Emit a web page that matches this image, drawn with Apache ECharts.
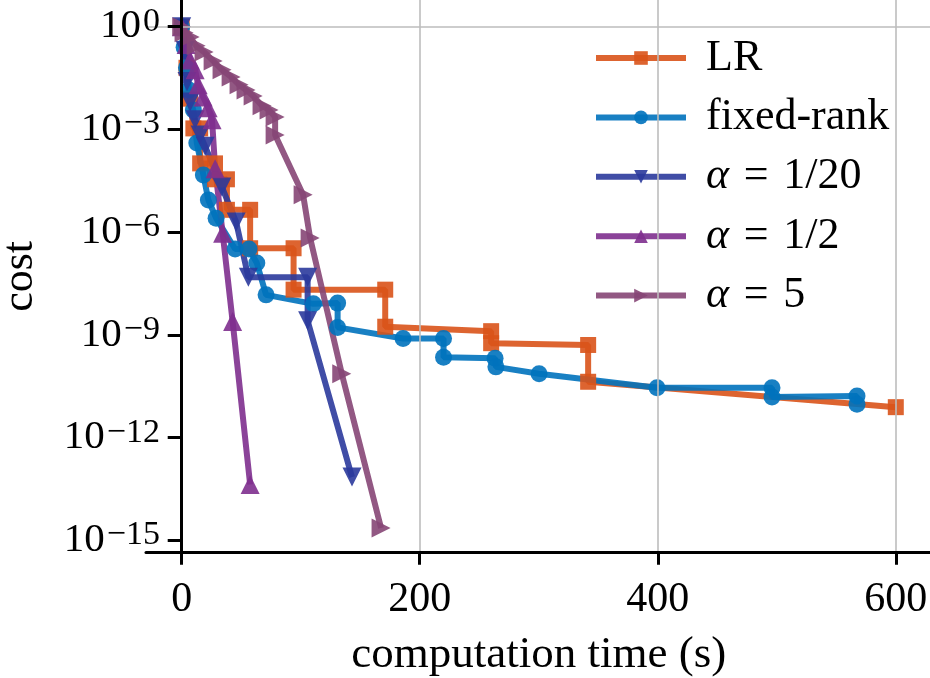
<!DOCTYPE html>
<html>
<head>
<meta charset="utf-8">
<script src="https://cdn.jsdelivr.net/npm/echarts@6/dist/echarts.min.js"></script>
<style>
  html, body { margin: 0; padding: 0; background: #fff; }
  #chart { width: 930px; height: 678px; }
</style>
</head>
<body>
<div id="chart"></div>
<script>
  // values: time in seconds, cost on a log scale
  const lrTime = [0, 4, 7, 9.8, 15.5, 15.5, 28, 28, 38, 38, 57.5, 57.5, 94, 94, 171, 171, 260, 260, 341.5, 341.5, 600];
  const lrCost = [1, 6.3e-2, 7.9e-3, 1.07e-3, 1.07e-3, 1.02e-4, 1.02e-4, 3.5e-5, 3.5e-5, 4.5e-6, 4.5e-6, 3.4e-7, 3.4e-7,
    2.1e-8, 2.1e-8, 1.74e-9, 1.29e-9, 5.75e-10, 5.1e-10, 4.3e-11, 7.8e-12];

  const fixedTime = [0, 2, 4, 6, 9.8, 12.7, 18.2, 22.4, 28.9, 44.9, 56.6, 63.1, 70.9, 110.6, 131, 131, 186, 220, 220,
    263.3, 264, 300.3, 399.4, 496, 496, 567.4, 567.4];
  const fixedCost = [1, 0.25, 6.3e-2, 1.41e-2, 3.7e-3, 4.0e-4, 4.7e-5, 8.7e-6, 2.57e-6, 3.24e-7, 3.24e-7, 1.26e-7, 1.48e-8,
    8.1e-9, 8.5e-9, 1.66e-9, 7.9e-10, 7.9e-10, 2.24e-10, 2.09e-10, 1.17e-10, 7.4e-11, 2.88e-11, 2.88e-11, 1.55e-11,
    1.66e-11, 9.5e-12];

  const a20Time = [0, 2.9, 4.5, 7.1, 11.3, 15.5, 19.7, 33.7, 45.7, 56, 105.8, 105.8, 143.1];
  const a20Cost = [1, 0.2, 2.5e-2, 6.3e-3, 1.9e-3, 6.9e-4, 3.2e-4, 2.1e-5, 2.0e-6, 4.8e-8, 4.8e-8, 2.6e-9, 7.1e-14];

  const a2Time = [0, 3.7, 7.1, 11.3, 13.8, 18, 22.2, 25.5, 28.1, 34.4, 42.8, 57.5];
  const a2Cost = [1, 0.3, 0.107, 5.5e-2, 2.0e-2, 8.9e-3, 4.3e-3, 1.9e-3, 7.1e-5, 9.3e-7, 2.45e-9, 4.3e-14];

  const a5Time = [0, 2, 7.1, 12.1, 18.8, 26.4, 33.9, 41.5, 48.2, 54.1, 60, 67.5, 73.4, 78.5, 78.5, 102, 107.9, 134.5, 167.5];
  const a5Cost = [1, 0.66, 0.5, 0.275, 0.182, 0.1, 5.5e-2, 3.4e-2, 2.0e-2, 1.41e-2, 9.5e-3, 4.9e-3, 3.7e-3, 2.3e-3,
    6.9e-4, 1.23e-5, 6.8e-7, 7.4e-11, 2.3e-15];

  const seriesNames = ['LR', 'fixed-rank', 'α = 1/20', 'α = 1/2', 'α = 5'];
  const xTicks = [0, 200, 400, 600];
  const yTicks = [1e-15, 1e-12, 1e-9, 1e-6, 1e-3, 1];

  const FONT = 'Liberation Serif';
  const chart = echarts.init(document.getElementById('chart'), null, { renderer: 'canvas' });

  function makeSeries(name, times, costs, color, symbol, size, rotate) {
    return {
      name,
      type: 'line',
      data: times.map((t, i) => [t, costs[i]]),
      symbol,
      symbolSize: size,
      symbolRotate: rotate,
      showAllSymbol: true,
      lineStyle: { color, width: 6, opacity: 0.9 },
      itemStyle: { color, opacity: 0.9 },
      emphasis: { disabled: true },
      z: 2,
    };
  }

  function legendLabel(name) {
    if (name.startsWith('α')) {
      return '{i|α}{r|' + name.slice(1).replace(/ /g, '\u2004') + '}';
    }
    return '{r|' + name + '}';
  }

  function costLabel(value) {
    const exp = Math.round(Math.log10(value));
    return '{b|10}{s|' + (exp === 0 ? '0' : '\u2212' + (-exp)) + '}';
  }

  chart.setOption({
    animation: false,
    backgroundColor: '#fff',
    grid: { left: 146, top: 0, width: 785.5, height: 552.7, containLabel: false, outerBoundsMode: 'none' },
    legend: {
      orient: 'vertical',
      left: 588,
      top: 31,
      itemWidth: 90,
      itemHeight: 17,
      itemGap: 15.4,
      selectedMode: false,
      data: seriesNames,
      lineStyle: { width: 6 },
      formatter: legendLabel,
      textStyle: {
        color: '#000',
        fontFamily: FONT,
        fontSize: 44,
        padding: [0, 0, 0, 15],
        rich: {
          r: { fontFamily: FONT, fontSize: 44, lineHeight: 44, color: '#000' },
          i: { fontFamily: FONT, fontSize: 44, lineHeight: 44, fontStyle: 'italic', color: '#000' },
        },
      },
    },
    xAxis: {
      type: 'value',
      min: -30,
      max: 630,
      z: 5,
      name: 'computation time (s)',
      nameLocation: 'middle',
      nameGap: 80,
      nameTextStyle: { fontFamily: FONT, fontSize: 45, color: '#000' },
      axisLine: { onZero: false, lineStyle: { color: '#000', width: 3 } },
      axisTick: { customValues: xTicks, length: 12, lineStyle: { color: '#000', width: 3 } },
      axisLabel: { customValues: xTicks, margin: 26, fontFamily: FONT, fontSize: 42, color: '#000' },
      splitLine: { show: false },
    },
    yAxis: {
      type: 'log',
      logBase: 10,
      min: 4.4e-16,
      max: 6.0,
      z: 5,
      name: 'cost',
      nameLocation: 'middle',
      nameGap: 104,
      nameTextStyle: { fontFamily: FONT, fontSize: 44, color: '#000' },
      axisLine: { onZero: true, lineStyle: { color: '#000', width: 3 } },
      axisTick: { customValues: yTicks, length: 14, lineStyle: { color: '#000', width: 3 } },
      axisLabel: {
        customValues: yTicks,
        margin: -14,
        formatter: costLabel,
        rich: {
          b: { fontFamily: FONT, fontSize: 41, lineHeight: 44, color: '#000' },
          s: { fontFamily: FONT, fontSize: 34, lineHeight: 28, verticalAlign: 'top', padding: [0, 0, 0, 2], color: '#000' },
        },
      },
      splitLine: { show: false },
    },
    series: [
      {
        name: 'gridlines',
        type: 'line',
        data: [],
        silent: true,
        z: 1,
        markLine: {
          silent: true,
          symbol: ['none', 'none'],
          label: { show: false },
          lineStyle: { color: '#bdbdbd', width: 1.6, type: 'solid' },
          emphasis: { disabled: true },
          data: xTicks.map((v) => ({ xAxis: v })).concat(yTicks.map((v) => ({ yAxis: v }))),
        },
      },
      makeSeries('LR', lrTime, lrCost, '#D95319', 'rect', 16, 0),
      makeSeries('fixed-rank', fixedTime, fixedCost, '#0072BD', 'circle', 17, 0),
      makeSeries('α = 1/20', a20Time, a20Cost, '#2B3A9C', 'triangle', 19, 180),
      makeSeries('α = 1/2', a2Time, a2Cost, '#7E2F8E', 'triangle', 19, 0),
      makeSeries('α = 5', a5Time, a5Cost, '#864676', 'triangle', 19, -90),
    ],
  });
</script>
</body>
</html>
